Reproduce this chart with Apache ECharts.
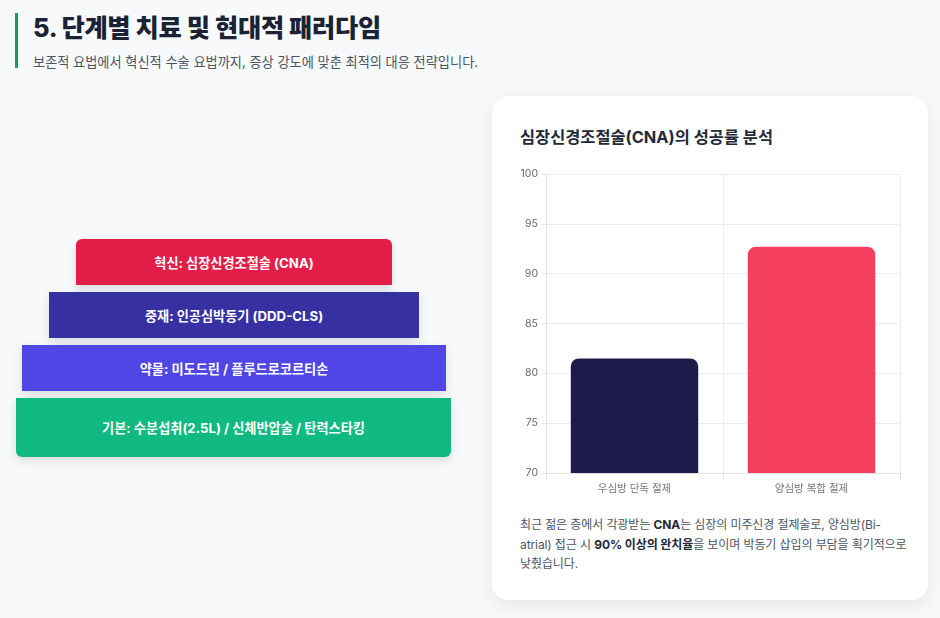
<!DOCTYPE html>
<html lang="ko">
<head>
<meta charset="utf-8">
<script src="https://cdn.jsdelivr.net/npm/echarts@6/dist/echarts.min.js"></script>
<style>
  html, body { margin:0; padding:0; }
  body { width:940px; height:618px; background:#f8f9fb; font-family:"Inter","Noto Sans CJK KR","Noto Sans",sans-serif; position:relative; overflow:hidden; }
  .hdr { position:absolute; left:15px; top:13px; height:55px; border-left:3px solid #10a060; padding-left:15px; }
  .hdr h1 { margin:0; font-size:25.3px; font-weight:800; color:#1a2233; line-height:30px; letter-spacing:-0.3px; }
  .hdr p { margin:9px 0 0 0; font-size:13.2px; color:#4b5563; }
  .tier { position:absolute; color:#fff; font-weight:700; font-size:13.2px; display:flex; align-items:center; justify-content:center; box-shadow:0 4px 10px rgba(0,0,0,0.12); }
  .card { position:absolute; left:492px; top:96px; width:436px; height:504px; background:#fff; border-radius:16px; box-shadow:0 6px 20px rgba(0,0,0,0.08); }
  .card h2 { position:absolute; left:28px; top:28px; margin:0; font-size:16.4px; font-weight:700; color:#1f2937; }
  #chart { position:absolute; left:14px; top:64px; width:408px; height:340px; }
  .desc { position:absolute; left:28px; top:419px; margin:0; font-size:12px; line-height:19.5px; color:#4b5563; white-space:nowrap; letter-spacing:-0.1px; }
  .desc b { color:#1f2937; }
</style>
</head>
<body>
<div class="hdr">
  <h1>5. 단계별 치료 및 현대적 패러다임</h1>
  <p>보존적 요법에서 혁신적 수술 요법까지, 증상 강도에 맞춘 최적의 대응 전략입니다.</p>
</div>

<div class="tier" style="left:76px;top:239px;width:316px;height:46px;background:#e11d48;border-radius:6px 6px 0 0;">혁신: 심장신경조절술 (CNA)</div>
<div class="tier" style="left:49px;top:292px;width:370px;height:46px;background:#3730a3;">중재: 인공심박동기 (DDD-CLS)</div>
<div class="tier" style="left:22px;top:345px;width:424px;height:46px;background:#4f46e5;">약물: 미도드린 / 플루드로코르티손</div>
<div class="tier" style="left:16px;top:398px;width:435px;height:59px;background:#10b981;border-radius:0 0 6px 6px;">기본: 수분섭취(2.5L) / 신체반압술 / 탄력스타킹</div>

<div class="card">
  <h2>심장신경조절술(CNA)의 성공률 분석</h2>
  <div id="chart"></div>
  <p class="desc">최근 젊은 층에서 각광받는 <b>CNA</b>는 심장의 미주신경 절제술로, 양심방(Bi-<br>atrial) 접근 시 <b>90% 이상의 완치율</b>을 보이며 박동기 삽입의 부담을 획기적으로<br>낮췄습니다.</p>
</div>

<script>
const categories = ['우심방 단독 절제', '양심방 복합 절제'];
const successRates = [81.5, 92.7];
const barColors = ['#1e1b4b', '#f43f5e'];
const yTicks = { min: 70, max: 100, step: 5 };

const chart = echarts.init(document.getElementById('chart'));
chart.setOption({
  animation: false,
  grid: { left: 40, right: 14, top: 14, bottom: 27 },
  xAxis: {
    type: 'category',
    data: categories,
    axisLine: { show: true, lineStyle: { color: '#e2e2e2' } },
    axisTick: { show: true, length: 7, lineStyle: { color: '#e2e2e2' } },
    splitLine: { show: true, lineStyle: { color: '#ececec' } },
    axisLabel: { color: '#777', fontSize: 10.5, margin: 11, fontFamily: 'Inter, Noto Sans CJK KR' }
  },
  yAxis: {
    type: 'value',
    min: yTicks.min, max: yTicks.max, interval: yTicks.step,
    axisLine: { show: true, lineStyle: { color: '#e2e2e2' } },
    axisTick: { show: true, length: 4, lineStyle: { color: '#e2e2e2' } },
    splitLine: { show: true, lineStyle: { color: '#ececec' } },
    axisLabel: { color: '#666', fontSize: 10.5, margin: 8, fontFamily: 'Inter, Noto Sans CJK KR' }
  },
  series: [{
    type: 'bar',
    barWidth: '72%',
    data: successRates.map((v, i) => ({
      value: v,
      itemStyle: { color: barColors[i], borderRadius: [8, 8, 0, 0] }
    }))
  }]
});
</script>
</body>
</html>
